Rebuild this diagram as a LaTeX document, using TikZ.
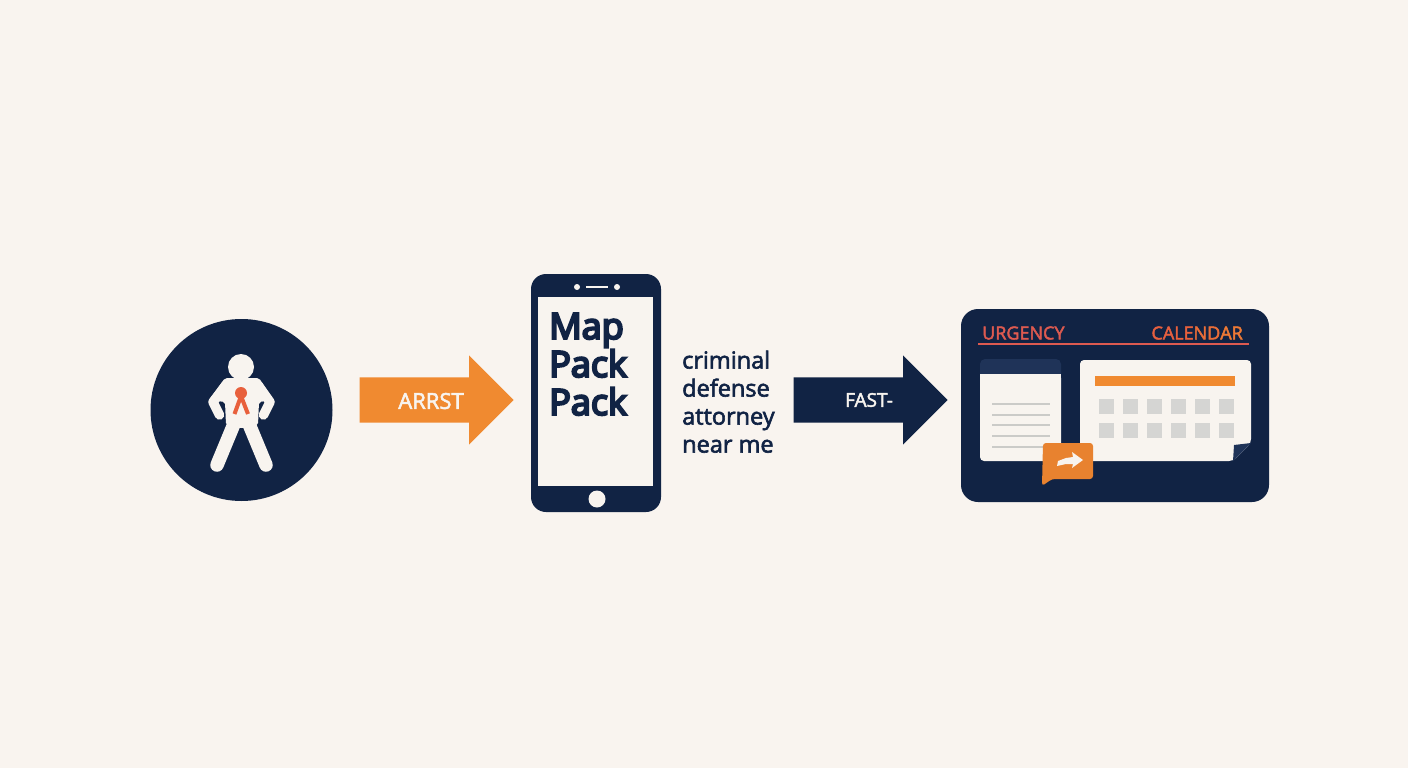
\documentclass[tikz,border=0pt]{standalone}
\usepackage{fontspec}
\setmainfont{Open Sans}
\newfontfamily\heavyfont{Open Sans}[FakeBold=6]
\newfontfamily\mediumfont{Open Sans}[FakeBold=2.5]
\usetikzlibrary{shapes.arrows}
\definecolor{paper}{HTML}{F9F4EF}
\definecolor{navy}{HTML}{112344}
\definecolor{navylight}{HTML}{1F3358}
\definecolor{amber}{HTML}{F08A30}
\definecolor{bubble}{HTML}{E8822F}
\definecolor{tomato}{HTML}{E8603C}
\definecolor{rosered}{HTML}{DD5A50}
\definecolor{sheet}{HTML}{F8F4EF}
\definecolor{cellgrey}{HTML}{D5D5D3}
\definecolor{linegrey}{HTML}{CBCBC8}
\begin{document}
\begin{tikzpicture}[
        x=1pt, y=-1pt,
        blockarrow/.style={single arrow, draw=none, anchor=tip, minimum height=154pt, minimum width=0pt,
                single arrow head extend=22pt, single arrow head indent=0pt, inner xsep=0pt, inner ysep=22.5pt},
        arrowtext/.style={text=sheet, inner sep=0pt, font=\fontsize{22}{26}\selectfont\mediumfont},
        screentext/.style={text=navy, inner sep=0pt, align=left, anchor=north west, font=\fontsize{36}{38}\selectfont\heavyfont}, % Крупный текст
        querytext/.style={text=navy, inner sep=0pt, align=left, anchor=north west, font=\fontsize{23.5}{28}\selectfont\mediumfont},
        cardtitle/.style={inner sep=0pt, font=\fontsize{18}{20}\selectfont\mediumfont},
        dot/.style={circle, fill=#1, draw=none, inner sep=0pt},
        limb/.style={sheet, line cap=round, line join=round, line width=#1},
    ]
    \fill[paper] (0,0) rectangle (1408,768);

    % Человек
    \node[dot=navy, minimum size=182pt] (person) at (241.5,410) {};
    \node[dot=sheet, minimum size=26pt] (head) at (241,367) {};
    \fill[sheet, rounded corners=2pt] (225,378) -- (259,378) -- (273,400) -- (259,402) -- (258,425) -- (244,428) -- (240,428) -- (226,425) -- (225,402) -- (209,400) -- cycle;
    \draw[limb=9.5pt] (226,385) -- (213,402) -- (219.5,415);
    \draw[limb=9.5pt] (258,385) -- (270,402) -- (263.5,415);
    \draw[limb=13.5pt] (234,424) -- (217,465);
    \draw[limb=13.5pt] (249,424) -- (266,465);
    \node[dot=tomato, minimum size=12pt] (knot) at (241,393) {};
    \draw[tomato, line width=4pt] (241,396) -- (234.5,414);
    \draw[tomato, line width=4pt] (241,396) -- (248,414);

    \node[blockarrow, fill=amber] (arrest) at (514,400) {};
    \node[arrowtext] (arrestlabel) at (431,401) {ARRST};

    % Телефон
    \node[draw=none, fill=navy, rounded corners=15pt, minimum width=130pt, minimum height=238pt] (phone) at (596,393) {};
    \node[draw=none, fill=sheet, minimum width=115pt, minimum height=189pt] (screen) at (595.5,391.5) {};
    \node[dot=sheet, minimum size=6pt] (camera) at (577,287) {};
    \node[dot=sheet, minimum size=6pt] (sensor) at (617,287) {};
    \draw[sheet, line width=2.5pt] (586,287) -- (608,287);
    \node[dot=sheet, minimum size=17pt] (home) at (597,499) {};
    \node[screentext] (maptext) at (549,313) {Map\\Pack\\Pack};
    \node[querytext] (query) at (682,350.5) {criminal\\defense\\attorney\\near me};

    \node[blockarrow, fill=navy] (fast) at (948,400) {};
    \node[arrowtext, font=\fontsize{19}{23}\selectfont\mediumfont] (fastlabel) at (869,400) {FAST-};

    % Карточка
    \node[draw=none, fill=navy, rounded corners=17pt, minimum width=308pt, minimum height=193pt] (card) at (1115,405.5) {};
    \node[cardtitle, text=rosered, anchor=west] (urgency) at (982,333) {URGENCY};
    \node[cardtitle, anchor=east] (calendar) at (1243,333) {\textcolor{tomato!85!rosered}{CA}\textcolor{tomato}{LE}\textcolor{tomato!70!amber}{ND}\textcolor{tomato!40!amber}{AR}};
    \draw[rosered, line width=1.2pt] (978,344) -- (1249,344);

    \fill[navylight, rounded corners=5pt] (980,380) -- (980,359) -- (1061,359) -- (1061,380) -- cycle;
    \fill[sheet, rounded corners=4pt] (980,374) -- (980,461) -- (1061,461) -- (1061,374) -- cycle;
    \fill[sheet] (980,374) rectangle (1061,380);
    \foreach \y in {404,415,425,436,447}
        \draw[linegrey, line width=2.6pt] (992,\y) -- (1050,\y);

    \fill[sheet, rounded corners=4pt] (1080,360) -- (1251,360) -- (1251,443) -- (1233,461) -- (1080,461) -- cycle;
    \fill[navylight] (1234,445) -- (1251,443) -- (1233,461) -- cycle;
    \fill[amber] (1095,376) rectangle (1235,386);
    \foreach \x in {1098.5,1122.7,1146.8,1171,1195,1219.3}
        \foreach \y in {399,423}
            \fill[cellgrey] (\x,\y) rectangle ++(15,15);

    \fill[bubble, rounded corners=3pt] (1043,443) -- (1093,443) -- (1093,479) -- (1052,479) -- (1042,486) -- cycle;
    \fill[sheet] (1083,460) -- (1072,452) -- (1073,457) -- (1066,458) -- (1058,461) -- (1057,466) -- (1066,464) -- (1073,464) -- (1072,468) -- cycle;
\end{tikzpicture}
\end{document}
